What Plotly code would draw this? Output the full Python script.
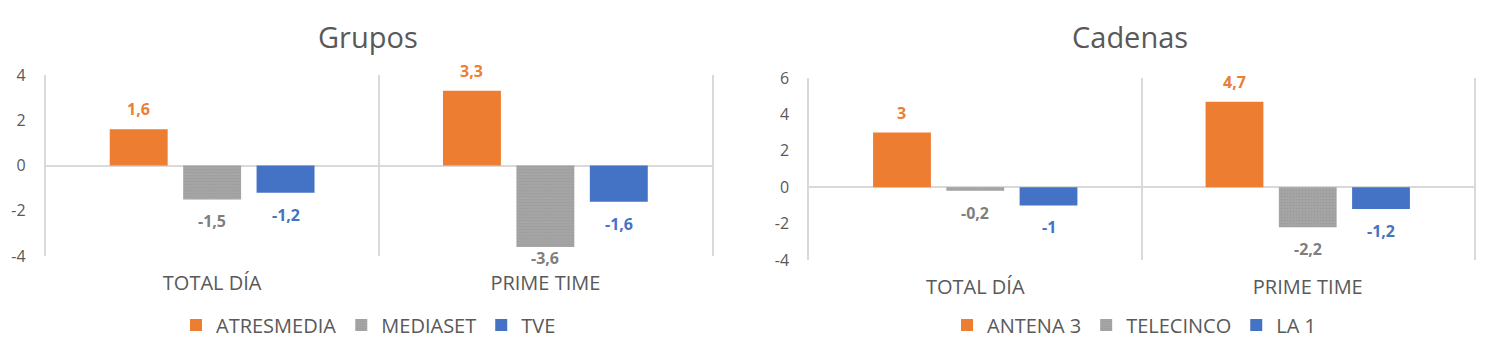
import plotly.graph_objects as go

categories = ["TOTAL DÍA", "PRIME TIME"]

grupos_names = ["ATRESMEDIA", "MEDIASET", "TVE"]
atresmedia = [1.6, 3.3]
mediaset = [-1.5, -3.6]
tve = [-1.2, -1.6]

cadenas_names = ["ANTENA 3", "TELECINCO", "LA 1"]
antena3 = [3, 4.7]
telecinco = [-0.2, -2.2]
la1 = [-1, -1.2]

y1_range = [-4, 4]
y2_range = [-4, 6]
y1_ticks = [-4, -2, 0, 2, 4]
y2_ticks = [-4, -2, 0, 2, 4, 6]

colors = ["#ED7D31", "#A5A5A5", "#4472C4"]
label_colors = ["#ED7D31", "#7F7F7F", "#4472C4"]
TXT = "#595959"
GRID = "#D9D9D9"
FONT = "Open Sans"

W, H = 1497, 356
BARGAP = 0.339
BARGROUPGAP = 0.211
x1_dom = [45.5 / W, 712 / W]
x2_dom = [809 / W, 1474 / W]
y1_dom = [(H - 256) / H, (H - 75) / H]
y2_dom = [(H - 260) / H, (H - 78) / H]


def fmt(v):
    s = f"{v:g}"
    return s.replace(".", ",")


fig = go.Figure()

annotations = []


def add_group(names, series, xa, ya, legend, xdom, ydom, yrange):
    cat_px = (xdom[1] - xdom[0]) * W / len(categories)
    slot = cat_px * (1 - BARGAP) / len(series)
    ppu = (ydom[1] - ydom[0]) * H / (yrange[1] - yrange[0])
    for i, (name, vals) in enumerate(zip(names, series)):
        marker = dict(color=colors[i], line=dict(width=0))
        if i == 1:
            marker["pattern"] = dict(shape=".", fgcolor="#8E8E8E", bgcolor="#A5A5A5",
                                     size=3, solidity=0.25)
        fig.add_trace(go.Bar(
            x=categories, y=vals, name=name, marker=marker,
            xaxis=xa, yaxis=ya, legend=legend, hoverinfo="skip",
        ))
        offset = (i - (len(series) - 1) / 2) * slot
        for c, v in zip(categories, vals):
            if v >= 0:
                ys = 20
            else:
                # keep label near the plot area like Excel does
                ys = -min(22, (v - yrange[0]) * ppu + 2)
            annotations.append(dict(
                x=c, y=v, xref=xa, yref=ya, text=f"<b>{fmt(v)}</b>",
                showarrow=False, xshift=offset, yshift=ys, yanchor="middle",
                font=dict(family=FONT, size=16, color=label_colors[i]),
            ))


add_group(grupos_names, [atresmedia, mediaset, tve], "x", "y", "legend",
          x1_dom, y1_dom, y1_range)
add_group(cadenas_names, [antena3, telecinco, la1], "x2", "y2", "legend2",
          x2_dom, y2_dom, y2_range)

annotations.append(dict(x=368 / W, y=(H - 37) / H, xref="paper", yref="paper",
                        text="Grupos", showarrow=False, xanchor="center", yanchor="middle",
                        font=dict(family=FONT, size=29, color=TXT)))
annotations.append(dict(x=1130 / W, y=(H - 37) / H, xref="paper", yref="paper",
                        text="Cadenas", showarrow=False, xanchor="center", yanchor="middle",
                        font=dict(family=FONT, size=29, color=TXT)))

xaxis_common = dict(
    type="category", tickson="boundaries", showgrid=True, gridcolor=GRID, gridwidth=1.5,
    showline=False, zeroline=False, ticks="", ticklabelstandoff=13,
    tickfont=dict(family=FONT, size=20, color=TXT), fixedrange=True, automargin=False,
)
yaxis_common = dict(
    showgrid=False, zeroline=True, zerolinecolor=GRID, zerolinewidth=1.5,
    showline=True, mirror=True, linecolor=GRID, linewidth=1.5, ticks="",
    ticklabelstandoff=15, tickfont=dict(family=FONT, size=16, color=TXT), fixedrange=True,
    automargin=False,
)

legend_common = dict(
    orientation="h", xanchor="left", yanchor="middle",
    font=dict(family=FONT, size=20, color=TXT), bgcolor="rgba(0,0,0,0)",
    itemwidth=30, tracegroupgap=0,
)

fig.update_layout(
    width=W, height=H,
    margin=dict(l=0, r=0, t=0, b=0, pad=0, autoexpand=False),
    paper_bgcolor="white", plot_bgcolor="white",
    barmode="group", bargap=BARGAP, bargroupgap=BARGROUPGAP,
    xaxis=dict(domain=x1_dom, anchor="y", **xaxis_common),
    xaxis2=dict(domain=x2_dom, anchor="y2", **xaxis_common),
    yaxis=dict(domain=y1_dom, anchor="x", range=y1_range, tickvals=y1_ticks,
               ticktext=[str(t) for t in y1_ticks], **yaxis_common),
    yaxis2=dict(domain=y2_dom, anchor="x2", range=y2_range, tickvals=y2_ticks,
                ticktext=[str(t) for t in y2_ticks], **yaxis_common),
    legend=dict(x=176 / W, y=(H - 325) / H, **legend_common),
    legend2=dict(x=947 / W, y=(H - 325) / H, **legend_common),
    annotations=annotations,
    showlegend=True,
)

fig.write_html("out.html", config={"displayModeBar": False},
               post_script="document.body.style.margin='0';document.body.style.overflow='hidden';")
